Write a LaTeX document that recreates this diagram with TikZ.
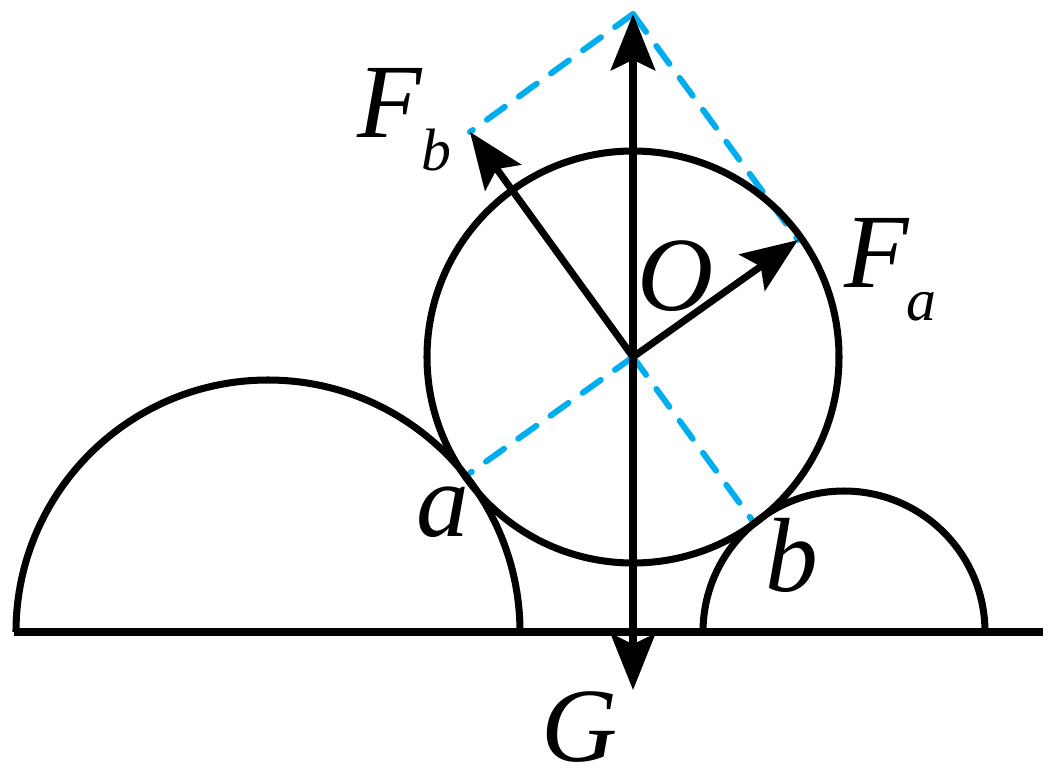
\documentclass[tikz,border=0pt]{standalone}
\usepackage{fontspec}
\setmainfont{Liberation Serif}
\usepackage{tikz}
\usetikzlibrary{arrows.meta}
\tikzset{
    solidline/.style={line width=2pt,black},
    guideline/.style={line width=1.7pt,line cap=round,draw={rgb,255:red,0;green,174;blue,239},dash pattern=on 6.3pt off 4.95pt},
    forcearrow/.style={solidline,-{Stealth[length=16pt,width=12.6pt,inset=3pt]}},
    biglabel/.style={inner sep=0pt,font=\fontsize{30}{30}\selectfont\itshape},
    smalllabel/.style={inner sep=0pt,font=\fontsize{17}{17}\selectfont\itshape}
}
\begin{document}
\begin{tikzpicture}[x=0.01cm,y=-0.01cm]
    \useasboundingbox (0,0) rectangle (1054,772);
    \coordinate (O) at (633,357);
    \coordinate (A) at (470,473);
    \coordinate (B) at (752,520);
    \coordinate (Tip) at (633,14);
    \coordinate (TipA) at (798,240);
    \coordinate (TipB) at (470,132);
    \coordinate (Down) at (633,690);
    \coordinate (Up) at (633,632);
    \coordinate (L) at (14,632);
    \coordinate (R) at (1043,632);

    % dashed parallelogram
    \foreach \from/\to in {Tip/TipB, Tip/TipA, O/A, O/B}
        \draw[guideline] (\from) -- (\to);

    % ball and supports
    \draw[solidline] (O) circle (206);
    \draw[solidline] (16,632) arc (180:360:252);
    \draw[solidline] (703,632) arc (180:360:141);
    \draw[solidline] (L) -- (R);

    % forces
    \draw[forcearrow] (O) -- (TipA);
    \draw[forcearrow] (O) -- (TipB);
    \draw[forcearrow] (Up) -- (Tip);
    \draw[forcearrow] (O) -- (Down);

    \node[biglabel] (LFb) at (390,103) {F};
    \node[smalllabel] (Lb) at (436,150) {b};
    \node[biglabel] (LFa) at (877,253) {F};
    \node[smalllabel] (La) at (921,307) {a};
    \node[biglabel] (LO) at (676,276) {O};
    \node[biglabel] (Lpa) at (443,512) {a};
    \node[biglabel] (Lpb) at (792,555) {b};
    \node[biglabel] (LG) at (580,727) {G};
\end{tikzpicture}
\end{document}
